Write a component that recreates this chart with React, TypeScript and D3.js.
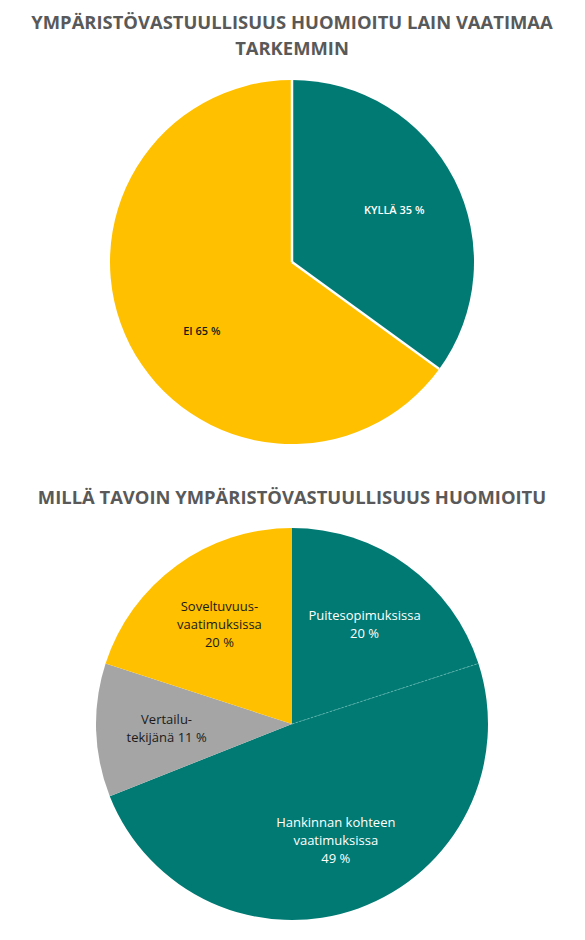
import React from "react";
import * as d3 from "d3";

const title1Lines = ["YMPÄRISTÖVASTUULLISUUS HUOMIOITU LAIN VAATIMAA", "TARKEMMIN"];
const pie1Labels = ["KYLLÄ", "EI"];
const pie1Values = [35, 65];

const title2Lines = ["MILLÄ TAVOIN YMPÄRISTÖVASTUULLISUUS HUOMIOITU"];
const pie2Labels = [
  ["Puitesopimuksissa"],
  ["Hankinnan kohteen", "vaatimuksissa"],
  ["Vertailu-", "tekijänä"],
  ["Soveltuvuus-", "vaatimuksissa"],
];
const pie2Values = [20, 49, 11, 20];

const TEAL = "#007A73";
const YELLOW = "#FFC000";
const GRAY = "#A5A5A5";
const pie1Colors = [TEAL, YELLOW];
const pie2Colors = [TEAL, TEAL, GRAY, YELLOW];
const pie1TextColors = ["#ffffff", "#1a1a1a"];
const pie2TextColors = ["#ffffff", "#ffffff", "#1a1a1a", "#1a1a1a"];
const pie1LabelOffsets = [[0, 0], [12, 16]];
const pie2LabelOffsets = [[0, 0], [2, 0], [-2, 0], [0, 0]];

const FONT = "'Open Sans', 'DejaVu Sans', sans-serif";

function Pie({ cx, cy, r, values, colors, separator }: any) {
  const pie = d3.pie<number>().sort(null).value((d) => d);
  const arcs = pie(values);
  const arc = d3.arc<d3.PieArcDatum<number>>().innerRadius(0).outerRadius(r);
  return (
    <g transform={`translate(${cx},${cy})`}>
      {arcs.map((a, i) => (
        <path key={i} d={arc(a) || ""} fill={colors[i]} />
      ))}
      {separator === "white" &&
        arcs.map((a, i) => {
          const ang = a.startAngle;
          return (
            <line key={"s" + i} x1={0} y1={0} x2={r * Math.sin(ang)} y2={-r * Math.cos(ang)} stroke="#ffffff" strokeWidth={2.5} />
          );
        })}
      {separator === "dotted" && (() => {
        const ang = arcs[1].startAngle;
        return (
          <line x1={0} y1={0} x2={r * Math.sin(ang)} y2={-r * Math.cos(ang)} stroke="#5FB8B0" strokeWidth={0.9} strokeDasharray="2,2" />
        );
      })()}
    </g>
  );
}

export default function App() {
  const W = 585, H = 940;
  const c1 = { x: 292, y: 262, r: 182 };
  const c2 = { x: 292, y: 724, r: 196 };
  const pie = d3.pie<number>().sort(null).value((d) => d);
  const arcs1 = pie(pie1Values);
  const arcs2 = pie(pie2Values);
  const lab1 = d3.arc<d3.PieArcDatum<number>>().innerRadius(c1.r * 0.63).outerRadius(c1.r * 0.63);
  const lab2 = d3.arc<d3.PieArcDatum<number>>().innerRadius(c2.r * 0.63).outerRadius(c2.r * 0.63);

  return (
    <svg width={W} height={H} style={{ position: "absolute", left: 0, top: 0, background: "#fff" }}>
      {title1Lines.map((t, i) => (
        <text key={i} x={292} y={29 + i * 26} textAnchor="middle" fontFamily={FONT} fontWeight={700} fontSize={18.4} fill="#595959">
          {t}
        </text>
      ))}
      <Pie cx={c1.x} cy={c1.y} r={c1.r} values={pie1Values} colors={pie1Colors} separator="white" />
      {arcs1.map((a, i) => {
        const [x, y] = lab1.centroid(a);
        return (
          <text key={i} x={c1.x + x + pie1LabelOffsets[i][0]} y={c1.y + y + pie1LabelOffsets[i][1]} textAnchor="middle" dominantBaseline="central" fontFamily={FONT} fontWeight={600} fontSize={11} fill={pie1TextColors[i]}>
            {`${pie1Labels[i]} ${pie1Values[i]} %`}
          </text>
        );
      })}
      {title2Lines.map((t, i) => (
        <text key={i} x={292} y={504 + i * 26} textAnchor="middle" fontFamily={FONT} fontWeight={700} fontSize={18.4} fill="#595959">
          {t}
        </text>
      ))}
      <Pie cx={c2.x} cy={c2.y} r={c2.r} values={pie2Values} colors={pie2Colors} separator="dotted" />
      {arcs2.map((a, i) => {
        const [x, y] = lab2.centroid(a);
        const lines = pie2Labels[i].slice();
        const pct = `${pie2Values[i]} %`;
        let all: string[];
        if (i === 2) {
          all = [lines[0], `${lines[1]} ${pct}`];
        } else {
          all = [...lines, pct];
        }
        const lh = 18;
        const y0 = c2.y + y + pie2LabelOffsets[i][1] - ((all.length - 1) * lh) / 2;
        return (
          <text key={i} textAnchor="middle" fontFamily={FONT} fontSize={13} fill={pie2TextColors[i]}>
            {all.map((l, j) => (
              <tspan key={j} x={c2.x + x + pie2LabelOffsets[i][0]} y={y0 + j * lh} dominantBaseline="central">
                {l}
              </tspan>
            ))}
          </text>
        );
      })}
    </svg>
  );
}
